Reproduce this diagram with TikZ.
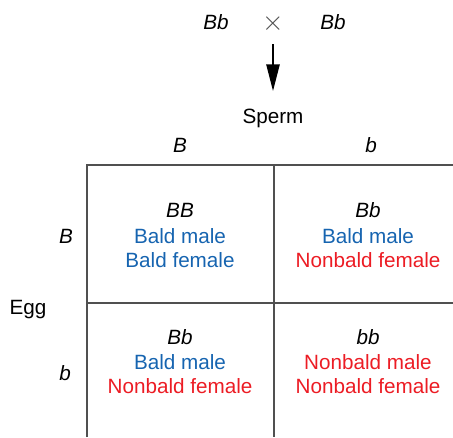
\documentclass[tikz,border=0pt]{standalone}
\usepackage{fontspec}
\setmainfont{Liberation Sans}
\usetikzlibrary{arrows.meta}
\definecolor{baldblue}{RGB}{22,100,176}
\definecolor{nbred}{RGB}{236,28,36}
\definecolor{gridgray}{RGB}{80,80,80}
\begin{document}
\begin{tikzpicture}[x=0.75pt,y=-0.75pt,
  txt/.style={inner sep=0pt,anchor=center,font=\fontsize{15.5}{18}\selectfont},
  geno/.style={txt,font=\fontsize{15.5}{18}\selectfont\itshape},
  bald/.style={txt,text=baldblue},
  nonbald/.style={txt,text=nbred},
  gridline/.style={draw=gridgray,line width=1.5pt}]
\useasboundingbox (0,0) rectangle (453,437);
% parents
\node[geno] (p1) at (216,22) {Bb};
\node[inner sep=0pt,text=gridgray,font=\fontsize{22}{24}\selectfont] (cross) at (273,24) {$\times$};
\node[geno] (p2) at (333,22) {Bb};
\coordinate (astart) at (273,44);
\coordinate (aend) at (273,91);
\draw[line width=1.1pt,-{Triangle[length=20pt,width=10pt]}] (astart) -- (aend);
\node[txt] (sperm) at (273,118) {Sperm};
\node[geno] (sB) at (180,145) {B};
\node[geno] (sb) at (371,145) {b};
\node[geno] (eB) at (66,236) {B};
\node[txt] (egg) at (28,310) {Egg};
\node[geno] (eb) at (65,373) {b};
% grid
\coordinate (c1) at (87,437);
\coordinate (c2) at (87,165);
\coordinate (c3) at (453,165);
\coordinate (m1) at (274,165);
\coordinate (m2) at (274,437);
\coordinate (h1) at (87,303);
\coordinate (h2) at (453,303);
\draw[gridline] (c1) -- (c2) -- (c3);
\draw[gridline] (m1) -- (m2);
\draw[gridline] (h1) -- (h2);
% cells
\node[geno] (g11) at (180,210) {BB};
\node[bald] (a11) at (180,236) {Bald male};
\node[bald] (b11) at (180,260) {Bald female};
\node[geno] (g12) at (368,210) {Bb};
\node[bald] (a12) at (368,236) {Bald male};
\node[nonbald] (b12) at (368,260) {Nonbald female};
\node[geno] (g21) at (180,337) {Bb};
\node[bald] (a21) at (180,362) {Bald male};
\node[nonbald] (b21) at (180,386) {Nonbald female};
\node[geno] (g22) at (368,337) {bb};
\node[nonbald] (a22) at (368,362) {Nonbald male};
\node[nonbald] (b22) at (368,386) {Nonbald female};
\end{tikzpicture}
\end{document}
